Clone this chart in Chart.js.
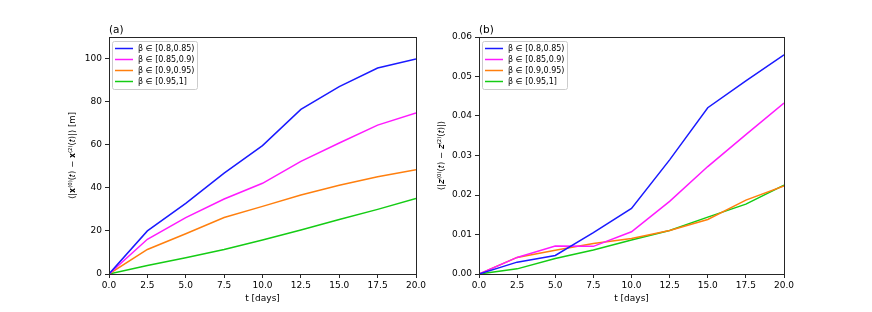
<!DOCTYPE html>
<html>
<head>
<meta charset="utf-8">
<script src="https://cdn.jsdelivr.net/npm/chart.js@4"></script>
<style>
  body { margin: 0; background: #fff; }
  #wrap { position: relative; width: 872px; height: 312px; }
  .box { position: absolute; top: 0; height: 312px; }
</style>
</head>
<body>
<div id="wrap">
  <div class="box" style="left:0;width:436px"><canvas id="chartA"></canvas></div>
  <div class="box" style="left:420px;width:452px"><canvas id="chartB"></canvas></div>
</div>
<script>
const days = [0, 2.5, 5, 7.5, 10, 12.5, 15, 17.5, 20];
const labels = ["β ∈ [0.8,0.85)", "β ∈ [0.85,0.9)", "β ∈ [0.9,0.95)", "β ∈ [0.95,1]"];
const colors = ["#1a1aff", "#ff1aff", "#ff7f0e", "#14cc14"];

// panel (a): horizontal distance [m]
const distA = [
  [0, 20, 32.8, 46.8, 59.6, 76.4, 87, 95.6, 99.8],
  [0, 16.1, 26.2, 34.8, 42.1, 52.3, 60.8, 69.1, 74.7],
  [0, 11.4, 18.7, 26.2, 31.4, 36.7, 41.2, 45.1, 48.4],
  [0, 3.9, 7.5, 11.4, 15.8, 20.4, 25.3, 30, 35.1],
];
const yTicksA = [0, 20, 40, 60, 80, 100];

// panel (b): vertical distance
const distB = [
  [0, 0.0030, 0.0047, 0.0105, 0.0166, 0.0289, 0.0421, 0.0489, 0.0555],
  [0, 0.0042, 0.0071, 0.0070, 0.0107, 0.0184, 0.0272, 0.0353, 0.0433],
  [0, 0.0042, 0.0060, 0.0077, 0.0090, 0.0110, 0.0138, 0.0187, 0.0223],
  [0, 0.0013, 0.0039, 0.0061, 0.0086, 0.0110, 0.0144, 0.0177, 0.0225],
];
const yTicksB = [0, 0.01, 0.02, 0.03, 0.04, 0.05, 0.06];

const FONT = "DejaVu Sans";
const INK = "#262626";

const framePlugin = {
  id: "frame",
  afterDraw(chart, args, opts) {
    const { ctx, chartArea: a } = chart;
    ctx.save();
    ctx.strokeStyle = INK;
    ctx.lineWidth = 1;
    ctx.strokeRect(Math.round(a.left) + 0.5, Math.round(a.top) + 0.5,
      Math.round(a.right - a.left), Math.round(a.bottom - a.top));
    // panel letter
    ctx.fillStyle = "#000";
    ctx.font = "10.5px '" + FONT + "'";
    ctx.textBaseline = "alphabetic";
    ctx.fillText(opts.panel, a.left, a.top - 4);
    // legend box
    const x = a.left + 3, y = a.top + 4, w = 85, h = 48;
    ctx.fillStyle = "rgba(255,255,255,0.85)";
    ctx.strokeStyle = "#cccccc";
    ctx.beginPath();
    ctx.roundRect(x + 0.5, y + 0.5, w, h, 2);
    ctx.fill();
    ctx.stroke();
    ctx.font = "8px '" + FONT + "'";
    ctx.textBaseline = "middle";
    chart.data.datasets.forEach((ds, i) => {
      const ry = y + 7.5 + i * 11;
      ctx.strokeStyle = ds.borderColor;
      ctx.lineWidth = 1.5;
      ctx.beginPath();
      ctx.moveTo(x + 3, ry);
      ctx.lineTo(x + 21, ry);
      ctx.stroke();
      ctx.fillStyle = "#000";
      ctx.fillText(ds.label, x + 26, ry + 0.5);
    });
    ctx.restore();
  },
};

function makeChart(id, series, yTicks, yMax, yTitle, digits, panel, pad, yWidth) {
  const datasets = series.map((vals, i) => ({
    label: labels[i],
    data: days.map((d, j) => ({ x: d, y: vals[j] })),
    borderColor: colors[i],
    backgroundColor: colors[i],
    borderWidth: 1.5,
    pointRadius: 0,
    tension: 0,
  }));
  return new Chart(document.getElementById(id), {
    type: "line",
    data: { datasets },
    plugins: [framePlugin],
    options: {
      responsive: true,
      maintainAspectRatio: false,
      animation: false,
      layout: { padding: pad },
      plugins: {
        legend: { display: false },
        tooltip: { enabled: false },
        frame: { panel },
      },
      scales: {
        x: {
          type: "linear",
          min: 0,
          max: 20,
          border: { display: false },
          grid: { drawOnChartArea: false, drawTicks: true, tickLength: 4, color: INK },
          ticks: {
            stepSize: 2.5,
            padding: 2,
            color: "#000",
            font: { family: FONT, size: 9 },
            maxRotation: 0,
            autoSkip: false,
            callback: (v) => Number(v).toFixed(1),
          },
          title: {
            display: true,
            text: "t [days]",
            color: "#000",
            font: { family: FONT, size: 9 },
            padding: { top: 1, bottom: 0 },
          },
          afterFit: (s) => { s.height = 30; },
        },
        y: {
          type: "linear",
          min: 0,
          max: yMax,
          border: { display: false },
          grid: { drawOnChartArea: false, drawTicks: true, tickLength: 4, color: INK },
          afterBuildTicks: (s) => { s.ticks = yTicks.map((v) => ({ value: v })); },
          ticks: {
            padding: 3,
            color: "#000",
            font: { family: FONT, size: 9 },
            callback: (v) => Number(v).toFixed(digits),
          },
          title: {
            display: true,
            text: yTitle,
            color: "#000",
            font: { family: FONT, size: 8.5 },
            padding: 0,
          },
          afterFit: (s) => { s.width = yWidth; },
        },
      },
    },
  });
}

makeChart("chartA", distA, yTicksA, 110, "⟨|𝐱⁽⁰⁾(𝑡) − 𝐱⁽²⁾(𝑡)|⟩ [m]", 0, "(a)",
  { left: 68, right: 20, top: 37, bottom: 8 }, 41);
makeChart("chartB", distB, yTicksB, 0.06, "⟨|𝑧⁽⁰⁾(𝑡) − 𝑧⁽²⁾(𝑡)|⟩", 2, "(b)",
  { left: 17, right: 88, top: 37, bottom: 8 }, 42);
</script>
</body>
</html>
